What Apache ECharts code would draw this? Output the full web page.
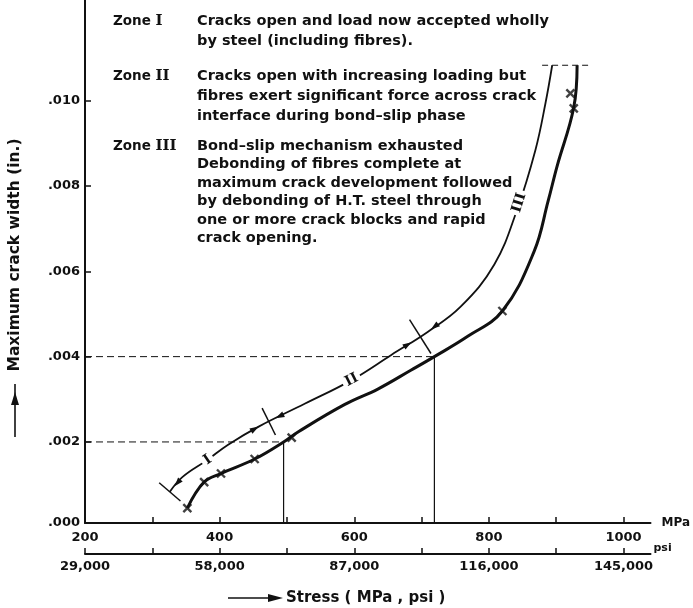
<!DOCTYPE html>
<html>
<head>
<meta charset="utf-8">
<script src="https://cdn.jsdelivr.net/npm/echarts@6/dist/echarts.min.js"></script>
<style>
  html, body { margin: 0; padding: 0; background: #fff; }
  #chart { width: 693px; height: 608px; }
</style>
</head>
<body>
<div id="chart"></div>
<script>
// ---- axis scales ----
const stressTicks = [200, 300, 400, 500, 600, 700, 800, 900, 1000];   // MPa
const stressLabels = [200, 400, 600, 800, 1000];
const psiLabels = ['29,000', '58,000', '87,000', '116,000', '145,000'];
const widthMin = 0.0001, widthMax = 0.01236;                           // in. (axis drawn from .000 to 3 d.p.)
const widthTicks = [0.002, 0.004, 0.006, 0.008, 0.010];
const widthLabels = ['.000', '.002', '.004', '.006', '.008', '.010'];

// ---- measured maximum crack width vs stress ----
const testStress = [352, 377, 402, 452, 495, 517, 586, 635, 684, 719, 768, 820, 867, 888, 901, 926, 931];
const testWidth  = [0.00045, 0.00106, 0.00126, 0.0016, 0.0020, 0.00224, 0.00288, 0.00324, 0.00368, 0.0040, 0.00447, 0.00507, 0.00646, 0.00765, 0.00845, 0.00984, 0.01083];

// individual test readings (crosses)
const pointStress = [352, 377, 402, 452, 507, 820, 921, 926];
const pointWidth  = [0.00045, 0.00106, 0.00126, 0.0016, 0.0021, 0.00507, 0.01017, 0.00982];

// ---- idealised curve divided into zones ----
const zoneStress = [326, 345, 382, 412, 458, 527, 596, 655, 709, 758, 808, 842, 869, 884, 894];
const zoneWidth  = [0.00083, 0.00118, 0.00158, 0.00193, 0.00236, 0.0029, 0.00345, 0.00404, 0.00458, 0.00517, 0.00616, 0.00745, 0.00884, 0.00994, 0.01083];

const zoneBoundStress = [326, 473, 698];
const zoneNames = ['I', 'II', 'III'];
const zoneLabelStress = [382, 596, 845];
const arrowStress = [333, 458, 483, 685, 714];
const arrowDir = [-1, 1, -1, 1, -1];

// crack widths of .002 and .004 in. and the stresses at which they are reached
const refWidth = [0.002, 0.004];
const refStress = [495, 719];

// upper limit of the curves
const capWidth = 0.01083;
const capStress = [879, 953];

// ---- zone descriptions ----
const zoneTitles = ['I', 'II', 'III'];
const zoneNotes = [
  ['Cracks open and load now accepted wholly', 'by steel (including fibres).'],
  ['Cracks open with increasing loading but', 'fibres exert significant force across crack', 'interface during bond\u2013slip phase'],
  ['Bond\u2013slip mechanism exhausted', 'Debonding of fibres complete at', 'maximum crack development followed',
   'by debonding of H.T. steel through', 'one or more crack blocks and rapid', 'crack opening.']
];

const FONT = 'DejaVu Sans';
const SERIF = 'DejaVu Serif';
const BLACK = '#111';

const pairs = (xs, ys) => xs.map((x, i) => [x, ys[i]]);
const widthLabelValues = [widthMin].concat(widthTicks);

const chart = echarts.init(document.getElementById('chart'), null, { renderer: 'canvas' });

const labelStyle = { color: BLACK, fontFamily: FONT, fontWeight: 'bold', fontSize: 13 };

const refSeries = [];
refWidth.forEach((w, i) => {
  refSeries.push({
    type: 'line', data: [[200, w], [refStress[i], w]], symbol: 'none', silent: true,
    lineStyle: { color: BLACK, width: 1, type: [7, 4] }, z: 1
  });
  refSeries.push({
    type: 'line', data: [[refStress[i], widthMin], [refStress[i], w]], symbol: 'none', silent: true,
    lineStyle: { color: BLACK, width: 1.2 }, z: 1
  });
});

chart.setOption({
  animation: false,
  backgroundColor: '#fff',
  grid: { left: 85, top: 0, right: 39, bottom: 85 },
  xAxis: [
    {
      type: 'value', min: 200, max: 1040, position: 'bottom',
      name: 'MPa', nameLocation: 'end', nameGap: 11,
      nameTextStyle: { ...labelStyle, fontSize: 12 },
      axisLine: { show: true, onZero: false, lineStyle: { color: BLACK, width: 2 } },
      axisTick: { show: true, inside: true, length: 6, customValues: stressTicks, lineStyle: { color: BLACK, width: 1.5 } },
      axisLabel: { ...labelStyle, margin: 8, customValues: stressLabels, formatter: v => String(v) },
      splitLine: { show: false }
    },
    {
      type: 'value', min: 200, max: 1040, position: 'bottom', offset: 31,
      name: 'psi', nameLocation: 'end', nameGap: 3,
      nameTextStyle: { ...labelStyle, fontSize: 11, verticalAlign: 'bottom' },
      axisLine: { show: true, onZero: false, lineStyle: { color: BLACK, width: 2 } },
      axisTick: { show: true, inside: true, length: 6, customValues: stressTicks, lineStyle: { color: BLACK, width: 1.5 } },
      axisLabel: {
        ...labelStyle, margin: 6, customValues: stressLabels,
        formatter: v => psiLabels[stressLabels.indexOf(v)] || ''
      },
      splitLine: { show: false }
    }
  ],
  yAxis: {
    type: 'value', min: widthMin, max: widthMax,
    axisLine: { show: true, lineStyle: { color: BLACK, width: 2 } },
    axisTick: { show: true, inside: true, length: 6, customValues: widthTicks, lineStyle: { color: BLACK, width: 1.5 } },
    axisLabel: {
      ...labelStyle, margin: 5, customValues: widthLabelValues,
      formatter: v => widthLabels[widthLabelValues.findIndex(t => Math.abs(t - v) < 1e-9)] || ''
    },
    splitLine: { show: false }
  },
  series: [
    ...refSeries,
    {
      type: 'line', name: 'test', data: pairs(testStress, testWidth), symbol: 'none',
      smooth: 0.4,
      lineStyle: { color: BLACK, width: 3 }, z: 3
    },
    {
      type: 'scatter', name: 'readings', data: pairs(pointStress, pointWidth),
      symbol: 'path://M0,0L10,10M10,0L0,10', symbolSize: 8,
      itemStyle: { color: 'none', borderColor: BLACK, borderWidth: 2.4 }, z: 4
    },
    {
      type: 'line', name: 'zones', data: pairs(zoneStress, zoneWidth), symbol: 'none',
      smooth: 0.4,
      lineStyle: { color: BLACK, width: 1.8 }, z: 3
    },
    {
      type: 'line', data: capStress.map(s => [s, capWidth]), symbol: 'none', silent: true,
      lineStyle: { color: BLACK, width: 1.2, type: [6, 4] }, z: 2
    }
  ]
});

// ---- annotations placed along the zone curve through the axis scales ----
const toPx = (s, w) => chart.convertToPixel({ xAxisIndex: 0, yAxisIndex: 0 }, [s, w]);
const zonePx = zoneStress.map((s, i) => toPx(s, zoneWidth[i]));
function along(s) {
  const x = toPx(s, widthMin)[0];
  for (let i = 0; i < zonePx.length - 1; i++) {
    const a = zonePx[i], b = zonePx[i + 1];
    if (x >= a[0] - 0.01 && x <= b[0] + 0.01) {
      const dx = b[0] - a[0], dy = b[1] - a[1], L = Math.hypot(dx, dy);
      const t = (x - a[0]) / dx;
      return { p: [a[0] + t * dx, a[1] + t * dy], u: [dx / L, dy / L] };
    }
  }
  return null;
}

const graphics = [];

// zone boundary ticks
const tickHalf = [14, 15, 20];
zoneBoundStress.forEach((s, i) => {
  const g = along(s); if (!g) return;
  const n = [-g.u[1], g.u[0]];
  const h = tickHalf[i];
  graphics.push({
    type: 'line', silent: true, z: 10,
    shape: { x1: g.p[0] - n[0] * h, y1: g.p[1] - n[1] * h, x2: g.p[0] + n[0] * h, y2: g.p[1] + n[1] * h },
    style: { stroke: BLACK, lineWidth: 1.5 }
  });
});

// arrowheads
arrowStress.forEach((s, i) => {
  const g = along(s); if (!g) return;
  const d = [g.u[0] * arrowDir[i], g.u[1] * arrowDir[i]];
  const n = [-d[1], d[0]];
  const len = 9, hw = 3;
  const tip = g.p, base = [tip[0] - d[0] * len, tip[1] - d[1] * len];
  graphics.push({
    type: 'polygon', silent: true, z: 10,
    shape: { points: [tip, [base[0] + n[0] * hw, base[1] + n[1] * hw], [base[0] - n[0] * hw, base[1] - n[1] * hw]] },
    style: { fill: BLACK }
  });
});

// zone numerals on the curve
zoneLabelStress.forEach((s, i) => {
  const g = along(s); if (!g) return;
  graphics.push({
    type: 'text', silent: true, z: 11,
    x: g.p[0], y: g.p[1], rotation: Math.atan2(-g.u[1], g.u[0]),
    style: {
      text: zoneNames[i], x: 0, y: 0, align: 'center', verticalAlign: 'middle',
      font: 'bold 14px "' + SERIF + '"', fill: BLACK,
      backgroundColor: '#fff', padding: [0, 3]
    }
  });
});

// zone descriptions
const noteTop = [21, 76, 146];
const noteStep = [20, 20, 18.5];
zoneTitles.forEach((t, i) => {
  graphics.push({
    type: 'text', silent: true, z: 12,
    style: {
      x: 113, y: noteTop[i], verticalAlign: 'middle',
      text: '{a|Zone }{r|' + t + '}',
      rich: {
        a: { fontFamily: FONT, fontWeight: 'bold', fontSize: 13.5, fill: BLACK, color: BLACK },
        r: { fontFamily: SERIF, fontWeight: 'bold', fontSize: 15, fill: BLACK, color: BLACK }
      }
    }
  });
  zoneNotes[i].forEach((line, j) => {
    graphics.push({
      type: 'text', silent: true, z: 12,
      style: {
        x: 197, y: noteTop[i] + j * noteStep[i], verticalAlign: 'middle',
        text: line, font: 'bold 14.5px "' + FONT + '"', fill: BLACK
      }
    });
  });
});

// axis titles with arrows
graphics.push(
  {
    type: 'text', silent: true,
    style: { x: 286, y: 598, verticalAlign: 'middle', text: 'Stress ( MPa , psi )', font: 'bold 15px "' + FONT + '"', fill: BLACK }
  },
  { type: 'line', silent: true, shape: { x1: 228, y1: 598, x2: 272, y2: 598 }, style: { stroke: BLACK, lineWidth: 1.6 } },
  { type: 'polygon', silent: true, shape: { points: [[283, 598], [268, 594], [268, 602]] }, style: { fill: BLACK } },
  {
    type: 'text', silent: true, x: 15, y: 255, rotation: Math.PI / 2,
    style: { x: 0, y: 0, align: 'center', verticalAlign: 'middle', text: 'Maximum crack width (in.)', font: 'bold 15.5px "' + FONT + '"', fill: BLACK }
  },
  { type: 'line', silent: true, shape: { x1: 15, y1: 384, x2: 15, y2: 437 }, style: { stroke: BLACK, lineWidth: 1.6 } },
  { type: 'polygon', silent: true, shape: { points: [[15, 392], [11, 405], [19, 405]] }, style: { fill: BLACK } }
);

chart.setOption({ graphic: graphics });
</script>
</body>
</html>
